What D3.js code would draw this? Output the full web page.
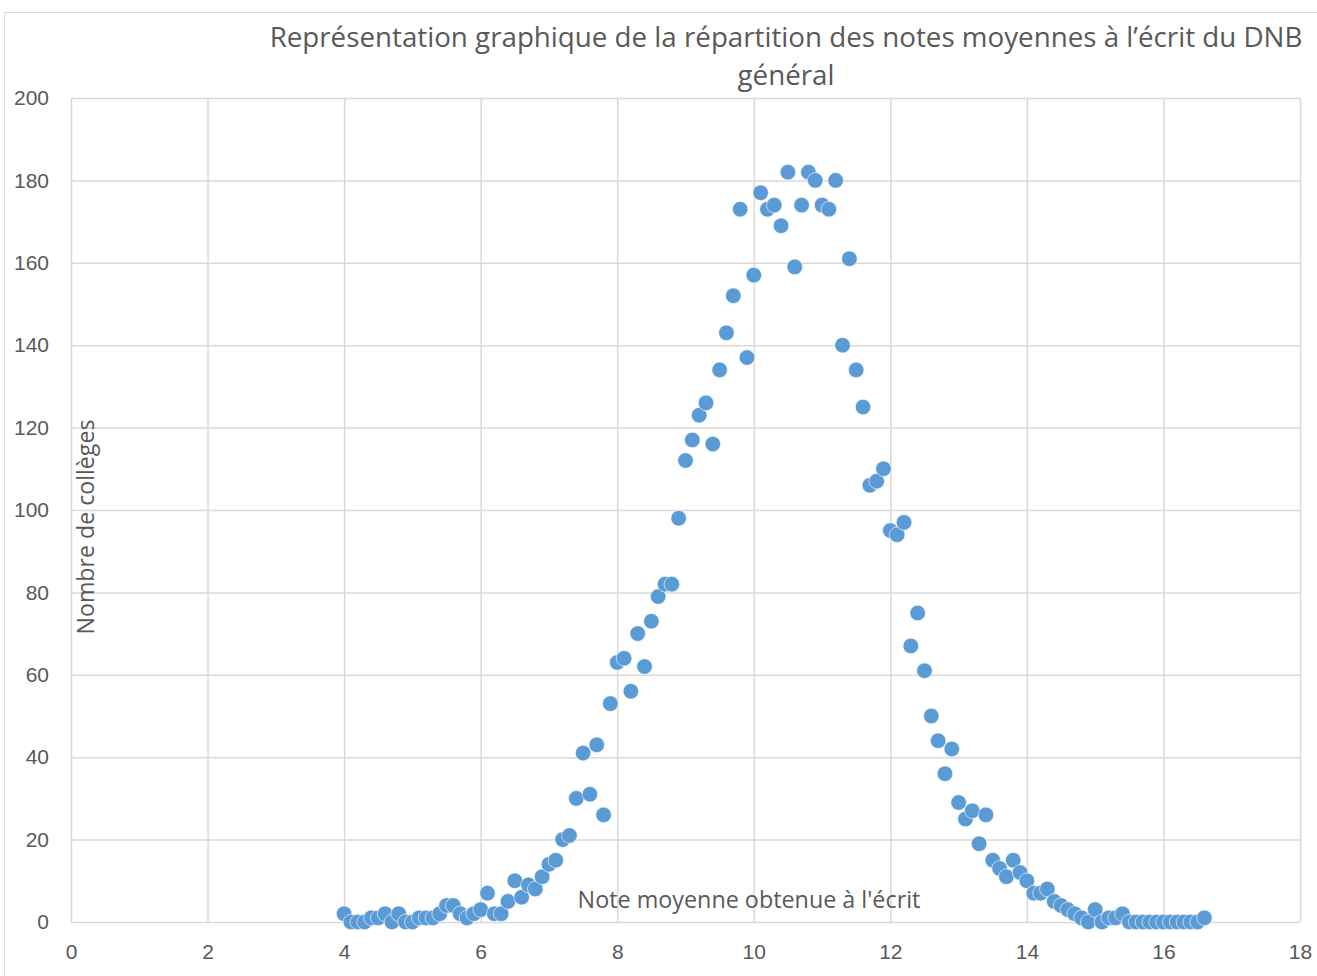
<!DOCTYPE html>
<html>
<head>
<meta charset="utf-8">
<script src="https://cdn.jsdelivr.net/npm/d3@7"></script>
<style>
  body { margin: 0; background: #fff; }
  svg { display: block; font-family: "Open Sans", "Noto Sans", sans-serif; }
  .axis text { fill: #595959; }
  .axis path { display: none; }
  .axis line { stroke: #d9d9d9; stroke-width: 1.5; }
</style>
</head>
<body>
<svg id="chart"></svg>
<script>
// notes moyennes (pas de 0.1, de 4.0 à 16.6)
const notes = d3.range(40, 167).map(d => d / 10);
const colleges = [
  2, 0, 0, 0, 1, 1, 2, 0, 2, 0,          // 4.0 - 4.9
  0, 1, 1, 1, 2, 4, 4, 2, 1, 2,          // 5.0 - 5.9
  3, 7, 2, 2, 5, 10, 6, 9, 8, 11,        // 6.0 - 6.9
  14, 15, 20, 21, 30, 41, 31, 43, 26, 53, // 7.0 - 7.9
  63, 64, 56, 70, 62, 73, 79, 82, 82, 98, // 8.0 - 8.9
  112, 117, 123, 126, 116, 134, 143, 152, 173, 137, // 9.0 - 9.9
  157, 177, 173, 174, 169, 182, 159, 174, 182, 180, // 10.0 - 10.9
  174, 173, 180, 140, 161, 134, 125, 106, 107, 110, // 11.0 - 11.9
  95, 94, 97, 67, 75, 61, 50, 44, 36, 42,  // 12.0 - 12.9
  29, 25, 27, 19, 26, 15, 13, 11, 15, 12,  // 13.0 - 13.9
  10, 7, 7, 8, 5, 4, 3, 2, 1, 0,           // 14.0 - 14.9
  3, 0, 1, 1, 2, 0, 0, 0, 0, 0,            // 15.0 - 15.9
  0, 0, 0, 0, 0, 0, 1                      // 16.0 - 16.6
];
const xTicks = d3.range(0, 19, 2);
const yTicks = d3.range(0, 201, 20);

const titleLines = ["Représentation graphique de la répartition des notes moyennes à l’écrit du DNB", "général"];
const xLabel = "Note moyenne obtenue à l'écrit";
const yLabel = "Nombre de collèges";

const data = notes.map((n, i) => ({ x: n, y: colleges[i] }));

const W = 1317, H = 976;
const margin = { top: 98, right: 17, bottom: 54, left: 71 };
const width = W - margin.left - margin.right;
const height = H - margin.top - margin.bottom;

const svg = d3.select("#chart").attr("width", W).attr("height", H);

// cadre du graphique
svg.append("rect")
  .attr("x", 4.5).attr("y", 12.5)
  .attr("width", W + 20).attr("height", H + 20)
  .attr("fill", "#fff")
  .attr("stroke", "#d9d9d9")
  .attr("stroke-width", 1);

const xScale = d3.scaleLinear().domain([0, 18]).range([0, width]);
const yScale = d3.scaleLinear().domain([0, 200]).range([height, 0]);

const chart = svg.append("g")
  .attr("transform", `translate(${margin.left},${margin.top})`);

// grilles + axes
chart.append("g")
  .attr("class", "axis y-axis")
  .call(d3.axisLeft(yScale).tickValues(yTicks).tickSize(-width).tickPadding(22))
  .selectAll("text").style("font-size", "21px");

chart.append("g")
  .attr("class", "axis x-axis")
  .attr("transform", `translate(0,${height})`)
  .call(d3.axisBottom(xScale).tickValues(xTicks).tickSize(-height).tickPadding(22))
  .selectAll("text").style("font-size", "21px");

// fit text to a target width
function fit(sel, target, base) {
  sel.style("font-size", base + "px");
  const w = sel.node().getComputedTextLength();
  sel.style("font-size", (base * target / w) + "px");
}

// titre de l'axe Y (dans la zone de tracé, comme l'original)
const yl = chart.append("text")
  .attr("transform", `translate(${94 - margin.left},${527 - margin.top}) rotate(-90)`)
  .attr("text-anchor", "middle")
  .attr("fill", "#595959")
  .text(yLabel);
fit(yl, 215, 21);

// points
chart.selectAll("circle.pt")
  .data(data)
  .join("circle")
  .attr("class", "pt")
  .attr("cx", d => xScale(d.x))
  .attr("cy", d => yScale(d.y))
  .attr("r", 7.8)
  .attr("fill", "#5b9bd5")
  .attr("stroke", "#ffffff")
  .attr("stroke-width", 0.6);

// titre de l'axe X
const xl = chart.append("text")
  .attr("x", 749 - margin.left)
  .attr("y", 908 - margin.top)
  .attr("text-anchor", "middle")
  .attr("fill", "#595959")
  .text(xLabel);
fit(xl, 343, 21);

// titre
const t1 = svg.append("text")
  .attr("x", 786).attr("y", 47)
  .attr("text-anchor", "middle")
  .attr("fill", "#595959")
  .text(titleLines[0]);
fit(t1, 1033, 27);
const t2 = svg.append("text")
  .attr("x", 786).attr("y", 85)
  .attr("text-anchor", "middle")
  .attr("fill", "#595959")
  .style("font-size", t1.style("font-size"))
  .text(titleLines[1]);
</script>
</body>
</html>
